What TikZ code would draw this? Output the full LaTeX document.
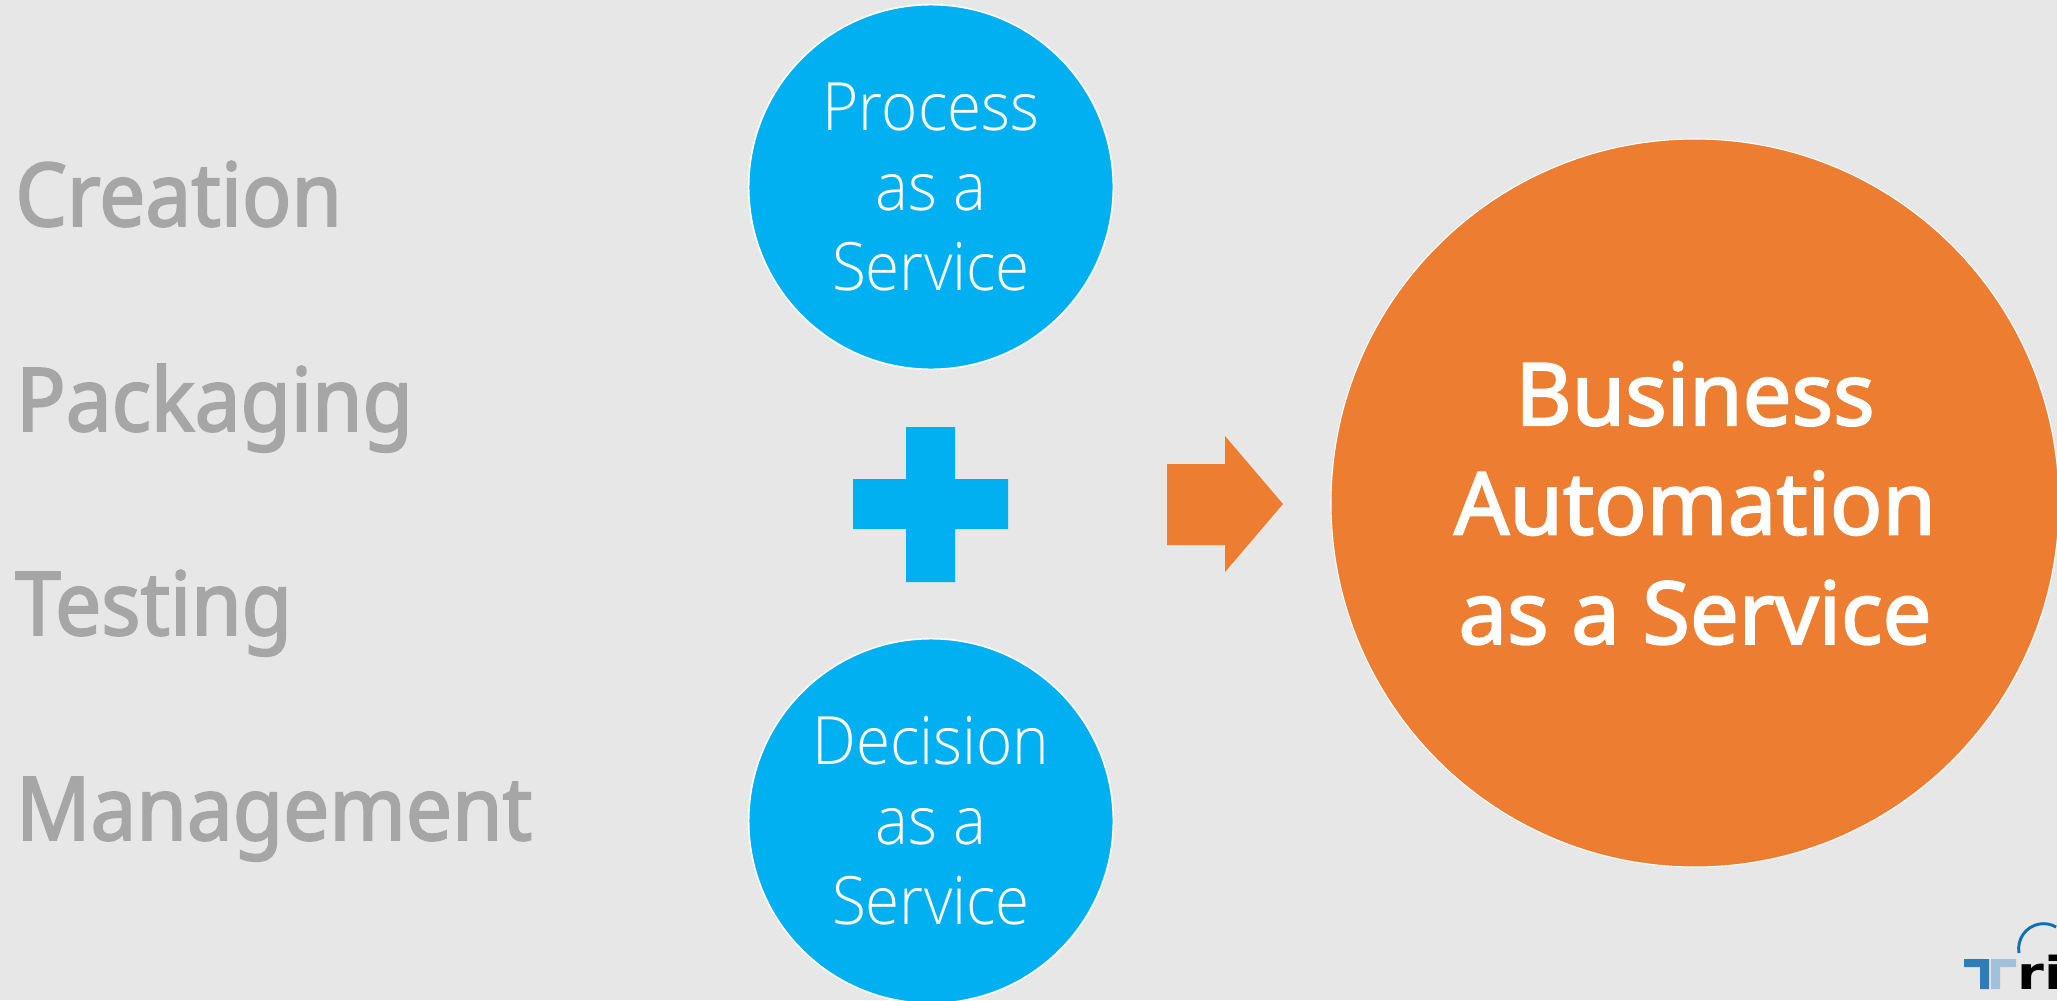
\documentclass[tikz,border=0pt]{standalone}
\usepackage{fontspec}
\setmainfont{Noto Sans}
\newfontfamily\lightf[FakeStretch=0.93]{Open Sans Light}
\newfontfamily\semif[FakeBold=2.2]{Noto Sans}
\newfontfamily\semin[FakeBold=2.2,FakeStretch=0.93]{Noto Sans}
\newfontfamily\logof{DejaVu Sans}
\definecolor{bgc}{HTML}{E7E7E7}
\definecolor{bluec}{HTML}{00B0F0}
\definecolor{orangec}{HTML}{ED7D31}
\definecolor{greyc}{HTML}{A6A6A6}
\definecolor{logod}{HTML}{2E7DB8}
\definecolor{logol}{HTML}{9FC1DC}
\definecolor{logoa}{HTML}{0F6FB5}
\tikzset{
  x=0.75pt,y=-0.75pt,
  leftlabel/.style={anchor=base west,inner sep=0pt,text=greyc,font=\semin\fontsize{66}{80}\selectfont},
  smallcirc/.style={circle,fill=bluec,draw=white,line width=1.2pt,minimum size=273.5pt,inner sep=0pt,text=white,align=center,font=\lightf\fontsize{50}{60}\selectfont},
  bigcirc/.style={circle,fill=orangec,draw=white,line width=0.8pt,minimum size=546pt,inner sep=0pt,text=white,align=center,font=\semif\fontsize{65}{82}\selectfont},
}
\begin{document}
\begin{tikzpicture}
\useasboundingbox (0,0) rectangle (2057,1000);
\clip (0,0) rectangle (2057,1000);
\fill[bgc] (0,0) rectangle (2057,1000);
\node[leftlabel] (creation) at (15,226) {Creation};
\node[leftlabel] (packaging) at (16,431) {Packaging};
\node[leftlabel] (testing) at (15,635) {Testing};
\node[leftlabel] (management) at (16,840) {Management};
\node[smallcirc] (pro) at (931,187) {Process\\as a\\Service};
\node[smallcirc] (dec) at (931,821) {Decision\\as a\\Service};
\node[bigcirc] (biz) at (1695,503) {Business\\Automation\\as a Service};
\fill[bluec] (906,427) -- (955,427) -- (955,479) -- (1008,479) -- (1008,529) -- (955,529) -- (955,582) -- (906,582) -- (906,529) -- (853,529) -- (853,479) -- (906,479) -- cycle;
\fill[orangec] (1167,464) -- (1225,464) -- (1225,436) -- (1283,504) -- (1225,572) -- (1225,545) -- (1167,545) -- cycle;
\fill[logod] (1964,959) -- (1989,959) -- (1989,989) -- (1980,989) -- (1980,967) -- (1964,967) -- cycle;
\fill[logol] (1991,959) -- (2016,959) -- (2016,967) -- (2000,967) -- (2000,989) -- (1991,989) -- cycle;
\draw[logoa,line width=2.2pt] (2019,953) arc[start angle=170,end angle=300,radius=25];
\node[anchor=base west,inner sep=0pt,font=\logof\bfseries\fontsize{34}{40}\selectfont,text=black,xscale=1.2] (logo) at (2017,989) {ri};
\end{tikzpicture}
\end{document}
